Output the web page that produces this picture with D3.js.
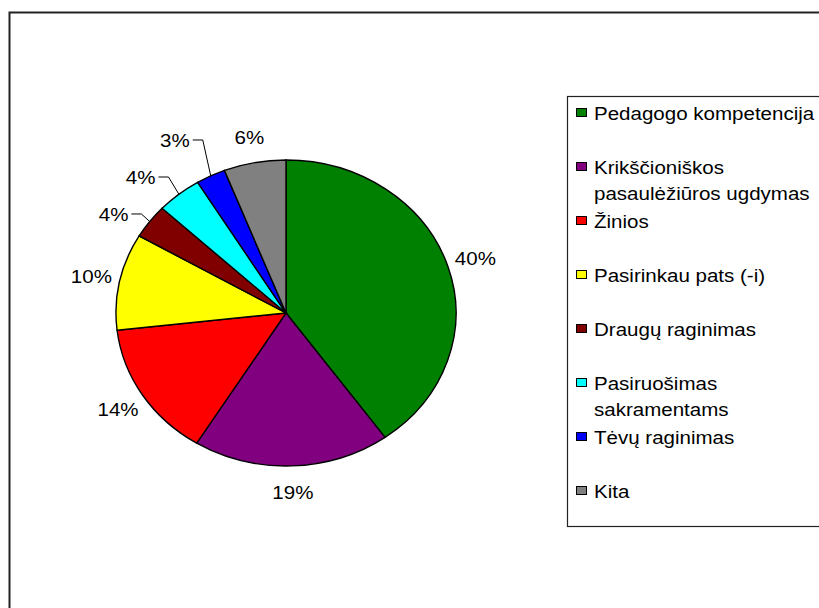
<!DOCTYPE html>
<html>
<head>
<meta charset="utf-8">
<script src="https://cdn.jsdelivr.net/npm/d3@7"></script>
<style>
  body { margin: 0; background: #fff; }
  text { font-family: "Liberation Sans", Arial, sans-serif; font-size: 18.5px; fill: #000; }
</style>
</head>
<body>
<div id="chart"></div>
<script>
const categories = ["Pedagogo kompetencija", "Krikščioniškos pasaulėžiūros ugdymas", "Žinios",
                    "Pasirinkau pats (-i)", "Draugų raginimas", "Pasiruošimas sakramentams",
                    "Tėvų raginimas", "Kita"];
const legendLines = [["Pedagogo kompetencija"], ["Krikščioniškos", "pasaulėžiūros ugdymas"], ["Žinios"],
                     ["Pasirinkau pats (-i)"], ["Draugų raginimas"], ["Pasiruošimas", "sakramentams"],
                     ["Tėvų raginimas"], ["Kita"]];
const values = [40.1, 18.7, 14.4, 10.2, 3.6, 4.3, 2.8, 5.9];
const colors = ["#008000", "#800080", "#ff0000", "#ffff00", "#800000", "#00ffff", "#0000ff", "#808080"];
// labels moved off the slice get a leader line
const labelNudge = {4: [-13, 8], 5: [-20, 3], 6: [-23, -12.5]};

const width = 819, height = 608;
const cx = 286, cy = 313, rx = 170, ry = 153;
const sx = 1.11; // text is stretched sideways like the pie

const svg = d3.select("#chart").append("svg")
    .attr("width", width)
    .attr("height", height);

svg.append("rect")
    .attr("x", 9.5).attr("y", 12.5)
    .attr("width", 900).attr("height", 700)
    .attr("fill", "none").attr("stroke", "#222").attr("stroke-width", 2);

const pie = d3.pie().sort(null).value(d => d);
const arcs = pie(values);
const arc = d3.arc().innerRadius(0).outerRadius(rx);

const g = svg.append("g")
    .attr("transform", `translate(${cx},${cy}) scale(1,${ry / rx})`);

g.selectAll("path")
    .data(arcs)
    .enter().append("path")
    .attr("d", arc)
    .attr("fill", (d, i) => colors[i])
    .attr("stroke", "#000")
    .attr("stroke-width", 1.4)
    .attr("vector-effect", "non-scaling-stroke");

function edge(a, k) {
    const m = (a.startAngle + a.endAngle) / 2;
    return [cx + k * rx * Math.sin(m), cy - k * ry * Math.cos(m)];
}

const labels = svg.append("g");
arcs.forEach((a, i) => {
    const p = edge(a, 1.17);
    const nudge = labelNudge[i];
    if (nudge) { p[0] += nudge[0]; p[1] += nudge[1]; }
    const txt = Math.round(a.data) + "%";
    const t = labels.append("text")
        .attr("transform", `translate(${p[0]},${p[1]}) scale(${sx},1)`)
        .attr("text-anchor", "middle")
        .attr("dy", "0.36em")
        .text(txt);
    if (nudge) {
        const w = t.node().getComputedTextLength() * sx;
        const x0 = p[0] + w / 2 + 3;
        const e = edge(a, 1);
        labels.append("path")
            .attr("d", d3.line()([[x0, p[1]], [x0 + 10, p[1]], e]))
            .attr("fill", "none")
            .attr("stroke", "#000")
            .attr("stroke-width", 1);
    }
});

// legend
const legend = svg.append("g");
legend.append("rect")
    .attr("x", 567.5).attr("y", 96.5)
    .attr("width", 400).attr("height", 430)
    .attr("fill", "none").attr("stroke", "#222").attr("stroke-width", 1.2);

const ly = d3.scalePoint().domain(categories).range([113, 491]);

categories.forEach((c, i) => {
    const y = ly(c);
    legend.append("rect")
        .attr("x", 576.5).attr("y", y - 4.5)
        .attr("width", 10).attr("height", 8)
        .attr("fill", colors[i])
        .attr("stroke", "#000").attr("stroke-width", 1);
    legendLines[i].forEach((line, j) => {
        legend.append("text")
            .attr("transform", `translate(594,${y + j * 26}) scale(${sx},1)`)
            .attr("dy", "0.36em")
            .text(line);
    });
});
</script>
</body>
</html>
